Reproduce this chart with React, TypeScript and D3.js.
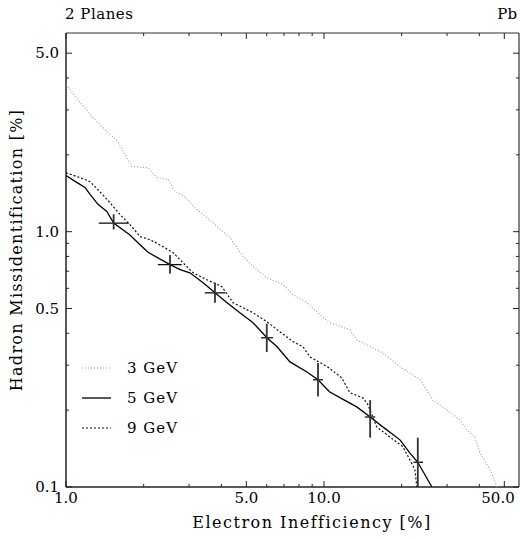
import React from "react";
import * as d3 from "d3";

// curve samples (electron inefficiency %, hadron misid %)
const x3 = [1.0, 1.13, 1.27, 1.44, 1.58, 1.65, 1.8, 2.08, 2.25, 2.49, 2.64, 2.89, 3.16, 3.61, 4.32, 4.81, 5.31, 6.01, 6.94, 7.59, 8.59, 9.65, 10.5, 12.6, 13.4, 16.9, 19.7, 23.6, 26.4, 30.0, 33.7, 35.8, 38.5, 40.2, 44.0, 46.9];
const y3 = [3.77, 3.23, 2.8, 2.47, 2.27, 2.1, 1.8, 1.78, 1.63, 1.6, 1.44, 1.37, 1.24, 1.11, 0.947, 0.81, 0.73, 0.66, 0.62, 0.566, 0.527, 0.473, 0.44, 0.413, 0.377, 0.335, 0.296, 0.263, 0.219, 0.2, 0.183, 0.167, 0.157, 0.136, 0.117, 0.1];

const x5 = [1.0, 1.1, 1.185, 1.24, 1.33, 1.44, 1.53, 1.77, 1.9, 2.08, 2.53, 2.77, 3.02, 3.4, 3.78, 4.21, 4.72, 5.31, 6.01, 6.58, 7.38, 8.59, 9.48, 10.5, 11.8, 13.4, 15.1, 16.9, 19.7, 21.5, 23.1, 26.2];
const y5 = [1.66, 1.56, 1.49, 1.4, 1.28, 1.2, 1.08, 0.97, 0.905, 0.83, 0.743, 0.71, 0.69, 0.631, 0.576, 0.527, 0.481, 0.44, 0.384, 0.354, 0.309, 0.282, 0.263, 0.236, 0.221, 0.206, 0.188, 0.172, 0.153, 0.136, 0.125, 0.1];

const x9 = [1.0, 1.13, 1.24, 1.33, 1.48, 1.62, 1.77, 1.94, 2.12, 2.38, 2.6, 2.84, 3.11, 3.52, 4.02, 4.44, 5.31, 6.01, 6.58, 7.59, 8.29, 8.83, 10.3, 11.7, 12.6, 14.2, 14.8, 16.0, 18.0, 20.2, 21.5, 22.5, 22.9];
const y9 = [1.7, 1.63, 1.57, 1.46, 1.3, 1.166, 1.065, 0.956, 0.93, 0.873, 0.828, 0.756, 0.69, 0.648, 0.609, 0.527, 0.481, 0.444, 0.413, 0.371, 0.354, 0.323, 0.296, 0.268, 0.234, 0.223, 0.21, 0.172, 0.157, 0.144, 0.128, 0.117, 0.1];

// error crosses on the 5 GeV curve
const errX = [1.53, 2.53, 3.78, 6.0, 9.48, 15.1, 23.1];
const errY = [1.08, 0.743, 0.576, 0.384, 0.263, 0.188, 0.125];
const errXLo = [1.34, 2.27, 3.45, 5.7, 9.06, 14.4, 22.2];
const errXHi = [1.75, 2.81, 4.14, 6.35, 9.91, 15.8, 24.2];
const errYLo = [1.02, 0.685, 0.527, 0.338, 0.226, 0.156, 0.1];
const errYHi = [1.17, 0.81, 0.631, 0.436, 0.306, 0.219, 0.156];

const xMajor = [1, 5, 10, 50];
const xMinor = [2, 3, 4, 6, 7, 8, 9, 20, 30, 40];
const yMajor = [0.1, 0.5, 1, 5];
const yMinor = [0.2, 0.3, 0.4, 0.6, 0.7, 0.8, 0.9, 2, 3, 4];

const legendLabels = ["3 GeV", "5 GeV", "9 GeV"];

const FONT = "'DejaVu Serif', serif";

export default function App() {
  const W = 520;
  const H = 539;
  const left = 66, right = 519, top = 33, bottom = 487;

  const x = d3.scaleLog().domain([1, 57]).range([left, right]);
  const y = d3.scaleLog().domain([0.1, 6.0]).range([bottom, top]);

  const line = d3
    .line<[number, number]>()
    .x((d) => x(d[0]))
    .y((d) => y(d[1]));

  const series = [
    { xs: x3, ys: y3, stroke: "#9a9a9a", width: 1.1, dash: "1,2" },
    { xs: x5, ys: y5, stroke: "#000", width: 1.3, dash: null },
    { xs: x9, ys: y9, stroke: "#111", width: 1.2, dash: "2,2" },
  ];

  const fmt = d3.format(".1f");

  return (
    <svg
      width={W}
      height={H}
      style={{ position: "absolute", left: 0, top: 0, background: "#fff" }}
      fontFamily={FONT}
    >
      <defs>
        <clipPath id="plot">
          <rect x={left} y={top} width={right - left} height={bottom - top} />
        </clipPath>
      </defs>

      {/* frame */}
      <line x1={left} x2={right} y1={top} y2={top} stroke="#333" strokeWidth={1.2} />
      <line x1={left} x2={right} y1={bottom} y2={bottom} stroke="#222" strokeWidth={1.5} />
      <line x1={left} x2={left} y1={top} y2={bottom} stroke="#222" strokeWidth={1.5} />
      <line x1={right} x2={right} y1={top} y2={bottom} stroke="#333" strokeWidth={1.2} />

      {/* x ticks, bottom and top, inward */}
      {xMajor.concat(xMinor).map((v) => {
        const len = xMajor.includes(v) ? 6 : 3;
        return (
          <g key={"xt" + v} stroke="#222" strokeWidth={1}>
            <line x1={x(v)} x2={x(v)} y1={bottom} y2={bottom - len} />
            <line x1={x(v)} x2={x(v)} y1={top} y2={top + len} />
          </g>
        );
      })}
      {/* y ticks, left and right, inward */}
      {yMajor.concat(yMinor).map((v) => {
        const len = yMajor.includes(v) ? 6 : 3;
        return (
          <g key={"yt" + v} stroke="#222" strokeWidth={1}>
            <line x1={left} x2={left + len} y1={y(v)} y2={y(v)} />
            <line x1={right} x2={right - len} y1={y(v)} y2={y(v)} />
          </g>
        );
      })}

      {/* tick labels (last one pulled in so it stays on the page) */}
      {xMajor.map((v) => (
        <text key={"xl" + v} x={Math.min(x(v), W - 22)} y={bottom + 16} fontSize={15} textAnchor="middle">
          {fmt(v)}
        </text>
      ))}
      {yMajor.map((v) => (
        <text key={"yl" + v} x={left - 7} y={y(v) + 5} fontSize={15} textAnchor="end">
          {fmt(v)}
        </text>
      ))}

      {/* curves */}
      <g clipPath="url(#plot)" fill="none">
        {series.map((s, i) => (
          <path
            key={i}
            d={line(s.xs.map((v, j) => [v, s.ys[j]] as [number, number])) || ""}
            stroke={s.stroke}
            strokeWidth={s.width}
            strokeDasharray={s.dash || undefined}
          />
        ))}
        {errX.map((v, i) => (
          <g key={"e" + i}>
            <line x1={x(errXLo[i])} x2={x(errXHi[i])} y1={y(errY[i])} y2={y(errY[i])} stroke="#111" strokeWidth={1.3} />
            <line x1={x(v)} x2={x(v)} y1={y(errYLo[i])} y2={y(errYHi[i])} stroke="#333" strokeWidth={1.8} />
          </g>
        ))}
      </g>

      {/* legend */}
      {legendLabels.map((lab, i) => {
        const s = series[i];
        const ly = 368 + i * 30;
        return (
          <g key={lab}>
            <line x1={82} x2={111} y1={ly} y2={ly} stroke={s.stroke} strokeWidth={s.width} strokeDasharray={s.dash || undefined} />
            <text x={127} y={ly + 5} fontSize={15} letterSpacing={1}>
              {lab}
            </text>
          </g>
        );
      })}

      {/* titles */}
      <text x={65} y={19} fontSize={15} letterSpacing={0.5}>2 Planes</text>
      <text x={517} y={19} fontSize={15} textAnchor="end">Pb</text>
      <text x={312} y={528} fontSize={16} textAnchor="middle" letterSpacing={1.5}>
        Electron Inefficiency [%]
      </text>
      <text
        transform="translate(22,250) rotate(-90)"
        fontSize={16}
        textAnchor="middle"
        letterSpacing={1.3}
      >
        Hadron Missidentification [%]
      </text>
    </svg>
  );
}
